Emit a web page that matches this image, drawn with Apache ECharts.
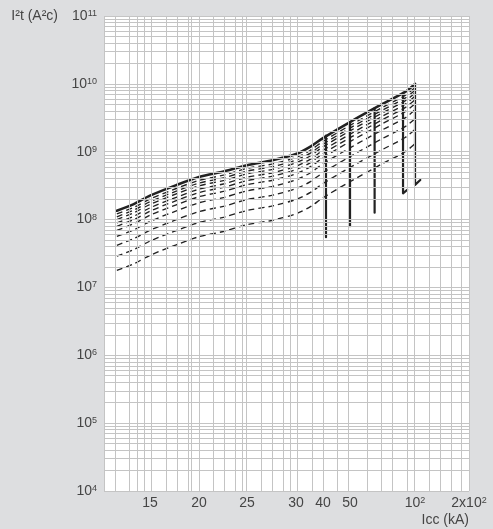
<!DOCTYPE html>
<html><head><meta charset="utf-8">
<script src="https://cdn.jsdelivr.net/npm/echarts@6/dist/echarts.min.js"></script>
<style>html,body{margin:0;padding:0;background:#dddee0}#c{width:493px;height:529px}</style>
</head><body><div id="c"></div>
<script>
// ---- x scale of the original figure (non-uniform, log inside each labelled step)
const X_SCALE_VALUES = [10, 15, 20, 25, 30, 40, 50, 100, 200];
const X_SCALE_FRACTIONS = [0, 0.126, 0.2603, 0.3918, 0.526, 0.6, 0.674, 0.8521, 1];
const X_TICK_VALUES = [15, 20, 25, 30, 40, 50, 100, 200];
const X_TICK_LABELS = ['15', '20', '25', '30', '40', '50', '10{sup|2}', '2x10{sup|2}'];
const X_GRID_VALUES = [10, 11.1, 12.35, 13.39, 14.22, 15, 16.4, 17.5, 18.6, 19.3, 20, 21.43, 22.56, 23.65, 24.46,
  25, 26.44, 27.39, 28.43, 29.54, 30, 35.3, 40, 45.3, 50, 60, 70, 80, 90, 100, 120, 140, 160, 180, 200];
const Y_DECADES = [4, 5, 6, 7, 8, 9, 10];
const Y_GRID_MULTIPLIERS = [1, 2, 3, 4, 5, 6, 7, 8, 9];

// ---- data: Icc (kA) and I²t (A²s)
const ICC = [11.2, 13, 15, 17.5, 20, 22.5, 25, 27.5, 30, 35, 40, 50, 70, 90, 100];
const I2T_MAX = [1.35e8, 1.69e8, 2.25e8, 3.22e8, 4.24e8, 5.15e8, 6.30e8, 7.50e8, 9.25e8, 1.19e9, 1.59e9, 2.74e9, 4.97e9, 7.60e9, 1.00e10];
const D1 = [1.21e8, 1.51e8, 2.01e8, 2.87e8, 3.78e8, 4.55e8, 5.68e8, 6.61e8, 8.24e8, 1.05e9, 1.42e9, 2.44e9, 4.43e9, 6.76e9, 8.87e9];
const D2 = [1.10e8, 1.38e8, 1.83e8, 2.62e8, 3.44e8, 4.15e8, 5.18e8, 6.03e8, 7.52e8, 9.55e8, 1.29e9, 2.23e9, 4.04e9, 6.17e9, 8.09e9];
const D3 = [1.00e8, 1.26e8, 1.67e8, 2.39e8, 3.14e8, 3.78e8, 4.72e8, 5.50e8, 6.86e8, 8.71e8, 1.18e9, 2.03e9, 3.68e9, 5.62e9, 7.38e9];
const D4 = [8.93e7, 1.12e8, 1.49e8, 2.13e8, 2.80e8, 3.37e8, 4.21e8, 4.90e8, 6.11e8, 7.76e8, 1.05e9, 1.81e9, 3.28e9, 5.01e9, 6.58e9];
const D5 = [7.96e7, 9.98e7, 1.33e8, 1.90e8, 2.50e8, 3.01e8, 3.75e8, 4.37e8, 5.45e8, 6.92e8, 9.38e8, 1.61e9, 2.92e9, 4.47e9, 5.86e9];
const D6 = [6.93e7, 8.69e7, 1.16e8, 1.65e8, 2.17e8, 2.62e8, 3.27e8, 3.80e8, 4.74e8, 6.03e8, 8.17e8, 1.41e9, 2.55e9, 3.89e9, 5.11e9];
const D7 = [5.64e7, 7.06e7, 9.40e7, 1.34e8, 1.77e8, 2.13e8, 2.65e8, 3.09e8, 3.85e8, 4.90e8, 6.64e8, 1.14e9, 2.07e9, 3.16e9, 4.15e9];
const D8 = [4.18e7, 5.24e7, 6.97e7, 9.95e7, 1.31e8, 1.58e8, 1.97e8, 2.29e8, 2.86e8, 3.63e8, 4.92e8, 8.47e8, 1.54e9, 2.34e9, 3.08e9];
const D9 = [2.89e7, 3.62e7, 4.82e7, 6.89e7, 9.06e7, 1.09e8, 1.36e8, 1.59e8, 1.98e8, 2.51e8, 3.40e8, 5.86e8, 1.06e9, 1.62e9, 2.13e9];
const D10 = [1.78e7, 2.23e7, 2.97e7, 4.25e7, 5.59e7, 6.73e7, 8.40e7, 9.77e7, 1.22e8, 1.55e8, 2.10e8, 3.61e8, 6.55e8, 1.00e9, 1.31e9];
const DASHED = [D1, D2, D3, D4, D5, D6, D7, D8, D9, D10];

// cut-off verticals
const CUT_ICC = [41, 50, 65, 88, 100];
const CUT_TOP = [1.73e9, 2.74e9, 4.40e9, 7.37e9, 1.00e10];
const CUT_BOTTOM = [5.5e7, 8.0e7, 1.26e8, 2.44e8, 3.24e8];
const CUT_FOOT_ICC = [null, null, null, 92, 107];
const CUT_FOOT_VAL = [null, null, null, 2.73e8, 3.83e8];

function toU(v) {
  const A = X_SCALE_VALUES, F = X_SCALE_FRACTIONS;
  for (let i = 0; i < A.length - 1; i++) {
    if (v <= A[i + 1] || i === A.length - 2) {
      return F[i] + (F[i + 1] - F[i]) * Math.log(v / A[i]) / Math.log(A[i + 1] / A[i]);
    }
  }
}
const xy = (xs, ys) => xs.map((x, i) => [toU(x), ys[i]]);

const FONT = 'Liberation Sans';
const TXT = '#454545';
const INK = '#222222';
const GRID = '#c4c4c4';

const gridLines = [];
X_GRID_VALUES.forEach(v => gridLines.push({ xAxis: toU(v) }));
Y_DECADES.forEach(d => Y_GRID_MULTIPLIERS.forEach(m => gridLines.push({ yAxis: m * Math.pow(10, d) })));
gridLines.push({ yAxis: 1e11 });

const series = [];
series.push({
  type: 'line', data: [], z: 1, silent: true,
  markLine: { silent: true, symbol: ['none', 'none'], animation: false, label: { show: false },
    lineStyle: { color: GRID, width: 1, type: 'solid' }, emphasis: { disabled: true }, data: gridLines }
});
DASHED.forEach((d, i) => series.push({
  type: 'line', name: 'd' + (i + 1), data: xy(ICC, d), smooth: 0.3, showSymbol: false, z: 3,
  lineStyle: { color: INK, width: 1.35, type: [6, 4] }
}));
series.push({
  type: 'line', name: 'max', data: xy(ICC, I2T_MAX), smooth: 0.3, showSymbol: false, z: 4,
  lineStyle: { color: INK, width: 2.6, cap: 'round', join: 'round' }
});
CUT_ICC.forEach((x, i) => {
  const pts = [[toU(x), CUT_TOP[i]], [toU(x), CUT_BOTTOM[i]]];
  if (CUT_FOOT_ICC[i] != null) pts.push([toU(CUT_FOOT_ICC[i]), CUT_FOOT_VAL[i]]);
  series.push({ type: 'line', data: pts, showSymbol: false, z: 4,
    lineStyle: { color: INK, width: 2.2, cap: 'round', join: 'round' } });
});

const chart = echarts.init(document.getElementById('c'));
chart.setOption({
  animation: false,
  backgroundColor: '#dddee0',
  textStyle: { fontFamily: FONT },
  grid: { left: 104, right: 24, top: 16, bottom: 38, show: true, backgroundColor: '#ffffff', borderWidth: 0 },
  xAxis: {
    type: 'value', min: 0, max: 1,
    name: 'Icc (kA)', nameLocation: 'end', nameGap: 0,
    nameTextStyle: { color: TXT, fontSize: 14, fontFamily: FONT, align: 'right', verticalAlign: 'top', padding: [22, 0, 0, 0] },
    axisLine: { show: false }, axisTick: { show: false }, splitLine: { show: false },
    axisLabel: {
      customValues: X_TICK_VALUES.map(toU),
      color: TXT, fontSize: 14, fontFamily: FONT, margin: 5,
      formatter: function (u) {
        let best = 0, bd = Infinity;
        X_TICK_VALUES.forEach((v, i) => { const d = Math.abs(toU(v) - u); if (d < bd) { bd = d; best = i; } });
        return X_TICK_LABELS[best];
      },
      rich: { sup: { fontSize: 9, fontFamily: FONT, color: TXT, verticalAlign: 'top' } }
    }
  },
  yAxis: {
    type: 'log', logBase: 10, min: 1e4, max: 1e11,
    name: 'I²t (A²c)', nameLocation: 'end', nameGap: 0,
    nameTextStyle: { color: TXT, fontSize: 14, fontFamily: FONT, align: 'right', verticalAlign: 'middle', padding: [4, 46, 0, 0] },
    axisLine: { show: false }, axisTick: { show: false }, splitLine: { show: false },
    axisLabel: {
      color: TXT, fontSize: 14, fontFamily: FONT, margin: 7,
      formatter: function (v) { return '10{sup|' + Math.round(Math.log10(v)) + '}'; },
      rich: { sup: { fontSize: 9, fontFamily: FONT, color: TXT, verticalAlign: 'top' } }
    }
  },
  series: series
});
</script></body></html>
